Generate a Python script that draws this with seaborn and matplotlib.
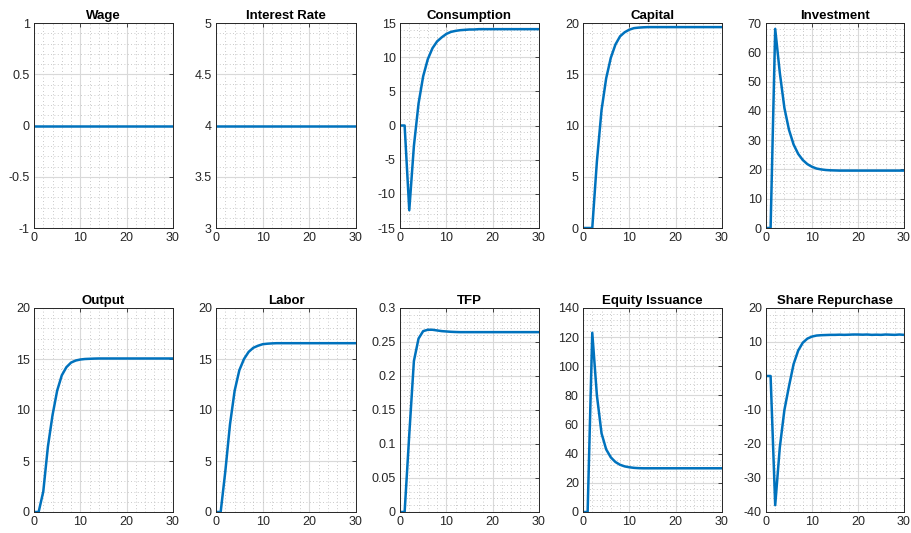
import numpy as np
import pandas as pd
import matplotlib
matplotlib.use("Agg")
import matplotlib.pyplot as plt
from matplotlib.ticker import MultipleLocator
import seaborn as sns

periods = list(range(31))

wage = [0.0] * 31
interest_rate = [4.0] * 31
consumption = [0, 0, -12.4, -3.0, 3.2, 7.2, 9.7, 11.3, 12.3, 12.9, 13.4, 13.7, 13.85,
               13.95, 14.0, 14.05, 14.05, 14.1, 14.1, 14.1, 14.1, 14.1, 14.1, 14.1,
               14.1, 14.1, 14.1, 14.1, 14.1, 14.1, 14.1]
capital = [0, 0, 0, 6.5, 11.5, 14.6, 16.6, 17.9, 18.7, 19.1, 19.35, 19.5, 19.55,
           19.58, 19.6, 19.6, 19.6, 19.6, 19.6, 19.6, 19.6, 19.6, 19.6, 19.6,
           19.6, 19.6, 19.6, 19.6, 19.6, 19.6, 19.6]
investment = [0, 0, 68.0, 53.0, 41.0, 33.5, 28.5, 25.3, 23.2, 21.8, 20.9, 20.3, 20.0,
              19.8, 19.7, 19.65, 19.6, 19.6, 19.6, 19.6, 19.6, 19.6, 19.6, 19.6,
              19.6, 19.6, 19.6, 19.6, 19.6, 19.6, 19.6]
output = [0, 0, 2.0, 6.4, 9.5, 11.9, 13.4, 14.2, 14.65, 14.85, 14.95, 15.0, 15.02,
          15.04, 15.05, 15.05, 15.05, 15.05, 15.05, 15.05, 15.05, 15.05, 15.05, 15.05,
          15.05, 15.05, 15.05, 15.05, 15.05, 15.05, 15.05]
labor = [0, 0, 4.0, 8.6, 11.9, 13.9, 15.0, 15.7, 16.1, 16.3, 16.45, 16.5, 16.53,
         16.55, 16.55, 16.55, 16.55, 16.55, 16.55, 16.55, 16.55, 16.55, 16.55, 16.55,
         16.55, 16.55, 16.55, 16.55, 16.55, 16.55, 16.55]
tfp = [0, 0, 0.114, 0.222, 0.255, 0.266, 0.268, 0.268, 0.267, 0.266, 0.2655, 0.265,
       0.2647, 0.2645, 0.2645, 0.2645, 0.2645, 0.2645, 0.2645, 0.2645, 0.2645, 0.2645,
       0.2645, 0.2645, 0.2645, 0.2645, 0.2645, 0.2645, 0.2645, 0.2645, 0.2645]
equity_issuance = [0, 0, 123.0, 80.0, 54.0, 43.0, 37.5, 34.3, 32.4, 31.3, 30.7, 30.3,
                   30.1, 30.0, 30.0, 30.0, 30.0, 30.0, 30.0, 30.0, 30.0, 30.0, 30.0,
                   30.0, 30.0, 30.0, 30.0, 30.0, 30.0, 30.0, 30.0]
share_repurchase = [0, 0, -38.0, -21.0, -10.0, -3.0, 3.5, 7.5, 9.8, 11.0, 11.6, 11.9,
                    12.0, 12.05, 12.1, 12.1, 12.15, 12.1, 12.15, 12.2, 12.2, 12.15,
                    12.2, 12.1, 12.15, 12.1, 12.2, 12.15, 12.1, 12.2, 12.1]

titles = ["Wage", "Interest Rate", "Consumption", "Capital", "Investment",
          "Output", "Labor", "TFP", "Equity Issuance", "Share Repurchase"]
series = [wage, interest_rate, consumption, capital, investment,
          output, labor, tfp, equity_issuance, share_repurchase]
ylims = [(-1, 1), (3, 5), (-15, 15), (0, 20), (0, 70),
         (0, 20), (0, 20), (0, 0.3), (0, 140), (-40, 20)]
ymajor = [0.5, 0.5, 5, 5, 10, 5, 5, 0.05, 20, 10]
yminor = [0.1, 0.1, 1, 1, 2, 1, 1, 0.01, 4, 2]

sns.set_style("white")
plt.rcParams['font.family'] = ['Liberation Sans', 'DejaVu Sans']

W, H = 912, 533
fig = plt.figure(figsize=(W / 100, H / 100), dpi=100)

lefts = [34, 216, 400, 583, 766]
widths = [139, 140, 139, 139, 138]
rows = [(23, 228), (308, 512)]

line_color = "#0072BD"
axis_color = "#262626"

for i, (title, vals) in enumerate(zip(titles, series)):
    r, c = divmod(i, 5)
    top, bottom = rows[r]
    ax = fig.add_axes([lefts[c] / W, 1 - bottom / H, widths[c] / W, (bottom - top) / H])
    df = pd.DataFrame({"t": periods, "v": vals})
    sns.lineplot(data=df, x="t", y="v", ax=ax, color=line_color, linewidth=1.8)
    ax.set_xlim(0, 30)
    ax.set_ylim(*ylims[i])
    ax.xaxis.set_major_locator(MultipleLocator(10))
    ax.xaxis.set_minor_locator(MultipleLocator(2))
    ax.yaxis.set_major_locator(MultipleLocator(ymajor[i]))
    ax.yaxis.set_minor_locator(MultipleLocator(yminor[i]))
    ax.grid(True, which="major", color="#d9d9d9", linewidth=0.8, linestyle="-")
    ax.grid(True, which="minor", color="#b8b8b8", linewidth=0.6, linestyle=(0, (1, 3)))
    ax.set_axisbelow(True)
    ax.set_xlabel("")
    ax.set_ylabel("")
    ax.set_title(title, fontsize=9.5, fontweight="bold", pad=3, color="black")
    ax.tick_params(axis="both", which="major", direction="in", length=3, width=0.6,
                   labelsize=9, colors=axis_color, top=True, right=True, pad=3)
    ax.tick_params(axis="both", which="minor", length=0, top=True, right=True)
    ax.yaxis.set_major_formatter(matplotlib.ticker.FuncFormatter(
        lambda v, p: ("%g" % round(v, 6))))
    for s in ax.spines.values():
        s.set_visible(True)
        s.set_color(axis_color)
        s.set_linewidth(0.7)

fig.savefig("out.png", dpi=100, facecolor="white")
